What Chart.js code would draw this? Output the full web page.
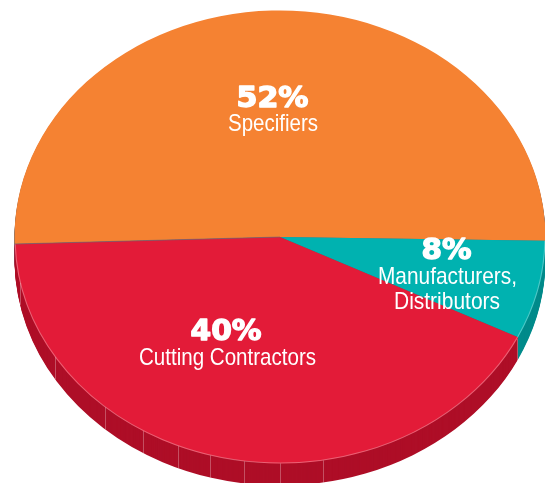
<!DOCTYPE html>
<html>
<head>
<meta charset="utf-8">
<style>
    html, body { margin: 0; padding: 0; background: #fff; overflow: hidden; }
    #wrap { width: 545px; height: 483px; }
</style>
<script src="https://cdn.jsdelivr.net/npm/chart.js@4"></script>
</head>
<body>
<div id="wrap"><canvas id="pie" width="545" height="483"></canvas></div>
<script>
const categories = ['Specifiers', 'Manufacturers, Distributors', 'Cutting Contractors'];
const shares = [52, 8, 40];
const sliceColors = ['#f58232', '#00b2b0', '#e31b38'];
const sideColors = ['#5f6b78', '#008b8b', '#ae0e27'];

// the tilted disc on the page
const disc = { cx: 280, cy: 237, rx: 265.5, ry: 226.5, depth: 22 };
// the camera stretches the slices nearest to it: how much, and around which angle
const perspective = { amount: 8.44, nearest: 164.65 };
// seams on the red rim, as x offsets from the disc centre
const rimSeams = [-260, -225, -175, -137, -102, -70, -36, 0, 43, 237];

function tilt(ctx, el) {
    ctx.translate(disc.cx, disc.cy);
    ctx.scale(disc.rx / el.outerRadius, disc.ry / el.outerRadius);
    ctx.translate(-el.x, -el.y);
}

function sector(ctx, el) {
    ctx.beginPath();
    ctx.moveTo(el.x, el.y);
    ctx.arc(el.x, el.y, el.outerRadius, el.startAngle, el.endAngle);
    ctx.closePath();
}

function warpAngle(a) {
    const near = perspective.nearest * Math.PI / 180;
    return a + perspective.amount * Math.PI / 180 * Math.sin(a - near);
}

const tiltedDisc = {
    id: 'tiltedDisc',
    afterDatasetsUpdate(chart) {
        chart.getDatasetMeta(0).data.forEach(el => {
            el.startAngle = warpAngle(el.startAngle);
            el.endAngle = warpAngle(el.endAngle);
            el.circumference = el.endAngle - el.startAngle;
        });
    },
    beforeDatasetsDraw(chart) {
        const ctx = chart.ctx;
        const arcs = chart.getDatasetMeta(0).data;
        const unit = arcs[0].outerRadius / disc.ry;

        ctx.save();
        tilt(ctx, arcs[0]);

        // extrude the sides first, then the top face goes over them
        for (let d = disc.depth; d > 0; d--) {
            arcs.forEach((el, i) => {
                ctx.save();
                ctx.translate(0, d * unit);
                ctx.fillStyle = sideColors[i];
                sector(ctx, el);
                ctx.fill();
                ctx.restore();
            });
        }
    },
    afterDatasetsDraw(chart) {
        const ctx = chart.ctx;
        const arcs = chart.getDatasetMeta(0).data;

        // light rim on the front of the face
        [1, 2].forEach(i => {
            const el = arcs[i];
            ctx.beginPath();
            ctx.arc(el.x, el.y, el.outerRadius - 0.5, el.startAngle, el.endAngle);
            ctx.strokeStyle = 'rgba(255,255,255,0.3)';
            ctx.lineWidth = 1;
            ctx.stroke();
        });

        // grey hairline where orange meets red
        ctx.beginPath();
        ctx.moveTo(arcs[0].x, arcs[0].y);
        ctx.lineTo(arcs[0].x + arcs[0].outerRadius * Math.cos(arcs[0].startAngle),
            arcs[0].y + arcs[0].outerRadius * Math.sin(arcs[0].startAngle));
        ctx.strokeStyle = 'rgba(95,107,120,0.6)';
        ctx.stroke();
        ctx.restore();

        // seams on the red side
        ctx.strokeStyle = 'rgba(255,255,255,0.28)';
        ctx.lineWidth = 1;
        rimSeams.forEach(dx => {
            const top = disc.cy + disc.ry * Math.sqrt(1 - (dx / disc.rx) ** 2);
            ctx.beginPath();
            ctx.moveTo(disc.cx + dx + 0.5, top);
            ctx.lineTo(disc.cx + dx + 0.5, top + disc.depth);
            ctx.stroke();
        });
    },
    afterDraw(chart) {
        const ctx = chart.ctx;
        ctx.fillStyle = '#fff';
        ctx.strokeStyle = '#fff';
        ctx.textAlign = 'center';
        ctx.textBaseline = 'alphabetic';
        const heavy = 'bold 28px "DejaVu Sans"';
        const thin = '24px "Liberation Sans"';
        fitText(ctx, shares[0] + '%', heavy, 272.5, 107, 72, 1.4);
        fitText(ctx, categories[0], thin, 273, 131, 90, 0);
        fitText(ctx, shares[2] + '%', heavy, 226, 340, 71, 1.4);
        fitText(ctx, categories[2], thin, 227.5, 365, 177, 0);
        fitText(ctx, shares[1] + '%', heavy, 446.5, 259, 50, 1.4);
        fitText(ctx, 'Manufacturers,', thin, 447.5, 284, 139, 0);
        fitText(ctx, 'Distributors', thin, 447, 309, 106, 0);
    }
};

// squeeze a line of text sideways to the width it has in the picture
function fitText(ctx, text, font, x, y, width, weight) {
    ctx.save();
    ctx.font = font;
    const k = width / ctx.measureText(text).width;
    ctx.translate(x, y);
    ctx.scale(k, 1);
    ctx.fillText(text, 0, 0);
    if (weight) {
        ctx.lineWidth = weight;
        ctx.lineJoin = 'round';
        ctx.strokeText(text, 0, 0);
    }
    ctx.restore();
}

new Chart(document.getElementById('pie'), {
    type: 'pie',
    data: {
        labels: categories,
        datasets: [{
            data: shares,
            backgroundColor: sliceColors,
            borderWidth: 0,
            clip: false
        }]
    },
    options: {
        responsive: false,
        animation: false,
        rotation: 266.5,
        layout: { padding: 0 },
        plugins: {
            legend: { display: false },
            tooltip: { enabled: false }
        }
    },
    plugins: [tiltedDisc]
});
</script>
</body>
</html>
